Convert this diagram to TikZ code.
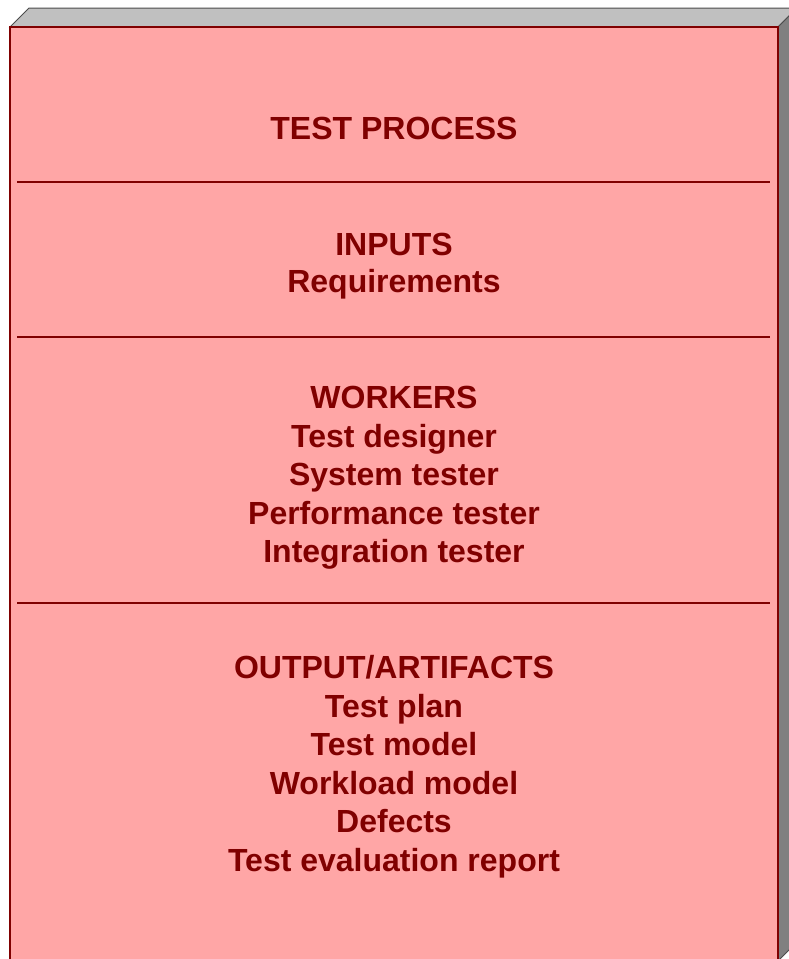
\documentclass[tikz,border=0pt]{standalone}
\usepackage{fontspec}
\setmainfont{Liberation Sans}
\usetikzlibrary{positioning}

\definecolor{boxred}{HTML}{FFA6A6}
\definecolor{darkred}{HTML}{800000}
\definecolor{topgrey}{HTML}{C0C0C0}
\definecolor{sidegrey}{HTML}{808080}

\tikzset{
  lbl/.style={anchor=base,text=darkred,inner sep=0pt,
    font=\bfseries\fontsize{32}{38}\selectfont},
  sepline/.style={draw=darkred,line width=2.2pt}
}

\begin{document}
\begin{tikzpicture}[x=1pt,y=-1pt]
            \useasboundingbox (0,0) rectangle (789,959);
            \clip (0,0) rectangle (789,959);
            % Box faces
            \filldraw[fill=topgrey,draw=black!70,line width=1pt] (10,27) -- (29,8) -- (797,8) -- (778,27) -- cycle;
            \filldraw[fill=sidegrey,draw=black!70,line width=1pt] (778,27) -- (797,8) -- (797,942) -- (778,961) -- cycle;
            \filldraw[fill=boxred,draw=darkred,line width=2.5pt] (10,27) rectangle (778,961);
            % Separators
            \draw[sepline] (17,182) -- (770,182);
            \draw[sepline] (17,337) -- (770,337);
            \draw[sepline] (17,603) -- (770,603);
            % Title
            \node[lbl] (title) at (394,139) {TEST PROCESS};
            % Inputs
            \node[lbl] (inputs) at (394,255) {INPUTS};
            \node[lbl] (req) at (394,292) {Requirements};
            % Workers
            \node[lbl] (workers) at (394,408) {WORKERS};
            \node[lbl] (designer) at (394,447) {Test designer};
            \node[lbl] (systester) at (394,485) {System tester};
            \node[lbl] (perftester) at (394,524) {Performance tester};
            \node[lbl] (inttester) at (394,562) {Integration tester};
            % Outputs
            \node[lbl] (outputs) at (394,678) {OUTPUT/ARTIFACTS};
            \node[lbl] (plan) at (394,717) {Test plan};
            \node[lbl] (model) at (394,755) {Test model};
            \node[lbl] (workload) at (394,794) {Workload model};
            \node[lbl] (defects) at (394,832) {Defects};
            \node[lbl] (report) at (394,871) {Test evaluation report};
        \end{tikzpicture}
\end{document}
